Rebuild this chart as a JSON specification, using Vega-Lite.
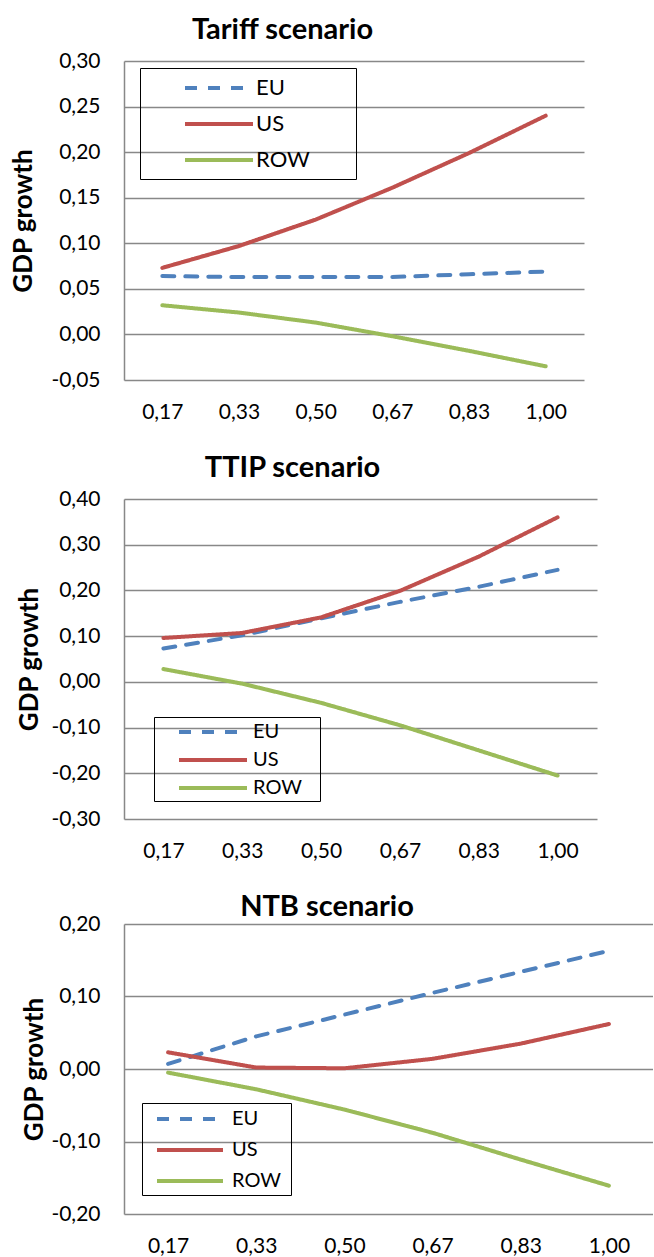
{
  "$schema": "https://vega.github.io/schema/vega-lite/v6.json",
  "padding": {"left": 10, "top": 15, "right": 0, "bottom": 0},
  "background": "white",
  "data": {"values": [
    {"scenario": "Tariff", "region": "EU", "share": "0,17", "gdp": 0.064},
    {"scenario": "Tariff", "region": "EU", "share": "0,33", "gdp": 0.063},
    {"scenario": "Tariff", "region": "EU", "share": "0,50", "gdp": 0.063},
    {"scenario": "Tariff", "region": "EU", "share": "0,67", "gdp": 0.063},
    {"scenario": "Tariff", "region": "EU", "share": "0,83", "gdp": 0.066},
    {"scenario": "Tariff", "region": "EU", "share": "1,00", "gdp": 0.069},
    {"scenario": "Tariff", "region": "US", "share": "0,17", "gdp": 0.073},
    {"scenario": "Tariff", "region": "US", "share": "0,33", "gdp": 0.097},
    {"scenario": "Tariff", "region": "US", "share": "0,50", "gdp": 0.126},
    {"scenario": "Tariff", "region": "US", "share": "0,67", "gdp": 0.161},
    {"scenario": "Tariff", "region": "US", "share": "0,83", "gdp": 0.199},
    {"scenario": "Tariff", "region": "US", "share": "1,00", "gdp": 0.240},
    {"scenario": "Tariff", "region": "ROW", "share": "0,17", "gdp": 0.032},
    {"scenario": "Tariff", "region": "ROW", "share": "0,33", "gdp": 0.024},
    {"scenario": "Tariff", "region": "ROW", "share": "0,50", "gdp": 0.013},
    {"scenario": "Tariff", "region": "ROW", "share": "0,67", "gdp": -0.002},
    {"scenario": "Tariff", "region": "ROW", "share": "0,83", "gdp": -0.018},
    {"scenario": "Tariff", "region": "ROW", "share": "1,00", "gdp": -0.035},
    {"scenario": "TTIP", "region": "EU", "share": "0,17", "gdp": 0.073},
    {"scenario": "TTIP", "region": "EU", "share": "0,33", "gdp": 0.102},
    {"scenario": "TTIP", "region": "EU", "share": "0,50", "gdp": 0.139},
    {"scenario": "TTIP", "region": "EU", "share": "0,67", "gdp": 0.175},
    {"scenario": "TTIP", "region": "EU", "share": "0,83", "gdp": 0.208},
    {"scenario": "TTIP", "region": "EU", "share": "1,00", "gdp": 0.245},
    {"scenario": "TTIP", "region": "US", "share": "0,17", "gdp": 0.096},
    {"scenario": "TTIP", "region": "US", "share": "0,33", "gdp": 0.107},
    {"scenario": "TTIP", "region": "US", "share": "0,50", "gdp": 0.141},
    {"scenario": "TTIP", "region": "US", "share": "0,67", "gdp": 0.199},
    {"scenario": "TTIP", "region": "US", "share": "0,83", "gdp": 0.274},
    {"scenario": "TTIP", "region": "US", "share": "1,00", "gdp": 0.360},
    {"scenario": "TTIP", "region": "ROW", "share": "0,17", "gdp": 0.028},
    {"scenario": "TTIP", "region": "ROW", "share": "0,33", "gdp": -0.004},
    {"scenario": "TTIP", "region": "ROW", "share": "0,50", "gdp": -0.046},
    {"scenario": "TTIP", "region": "ROW", "share": "0,67", "gdp": -0.095},
    {"scenario": "TTIP", "region": "ROW", "share": "0,83", "gdp": -0.150},
    {"scenario": "TTIP", "region": "ROW", "share": "1,00", "gdp": -0.205},
    {"scenario": "NTB", "region": "EU", "share": "0,17", "gdp": 0.007},
    {"scenario": "NTB", "region": "EU", "share": "0,33", "gdp": 0.045},
    {"scenario": "NTB", "region": "EU", "share": "0,50", "gdp": 0.075},
    {"scenario": "NTB", "region": "EU", "share": "0,67", "gdp": 0.105},
    {"scenario": "NTB", "region": "EU", "share": "0,83", "gdp": 0.134},
    {"scenario": "NTB", "region": "EU", "share": "1,00", "gdp": 0.163},
    {"scenario": "NTB", "region": "US", "share": "0,17", "gdp": 0.023},
    {"scenario": "NTB", "region": "US", "share": "0,33", "gdp": 0.002},
    {"scenario": "NTB", "region": "US", "share": "0,50", "gdp": 0.001},
    {"scenario": "NTB", "region": "US", "share": "0,67", "gdp": 0.014},
    {"scenario": "NTB", "region": "US", "share": "0,83", "gdp": 0.035},
    {"scenario": "NTB", "region": "US", "share": "1,00", "gdp": 0.062},
    {"scenario": "NTB", "region": "ROW", "share": "0,17", "gdp": -0.005},
    {"scenario": "NTB", "region": "ROW", "share": "0,33", "gdp": -0.028},
    {"scenario": "NTB", "region": "ROW", "share": "0,50", "gdp": -0.056},
    {"scenario": "NTB", "region": "ROW", "share": "0,67", "gdp": -0.088},
    {"scenario": "NTB", "region": "ROW", "share": "0,83", "gdp": -0.125},
    {"scenario": "NTB", "region": "ROW", "share": "1,00", "gdp": -0.161}
  ]},
  "align": "none",
  "spacing": 32,
  "vconcat": [
    {
      "title": {"text": "Tariff scenario", "dx": -71.5, "offset": 5.3},
      "width": 460, "height": 319,
      "transform": [{"filter": "datum.scenario == 'Tariff'"}],
      "mark": {"type": "line", "strokeWidth": 4, "strokeCap": "round", "strokeJoin": "round"},
      "encoding": {
        "x": {"field": "share", "type": "ordinal", "sort": null, "title": null},
        "y": {"field": "gdp", "type": "quantitative",
              "scale": {"domain": [-0.05, 0.30], "nice": false, "zero": false},
              "axis": {"values": [-0.05, 0, 0.05, 0.1, 0.15, 0.2, 0.25, 0.3], "title": "GDP growth", "titleX": -93, "titleY": 159.5}},
        "color": {"field": "region", "type": "nominal",
                  "scale": {"domain": ["EU", "US", "ROW"], "range": ["#4F81BD", "#C0504D", "#9BBB59"]},
                  "legend": {"orient": "none", "legendX": 16, "legendY": 7, "padding": 8, "rowPadding": 13, "labelFontSize": 22, "symbolSize": 400, "symbolType": "M-3.4,0H3.4M12.1,0", "symbolOffset": 59, "labelOffset": 25}},
        "strokeDash": {"field": "region", "type": "nominal",
                  "scale": {"domain": ["EU", "US", "ROW"], "range": [[12, 11], [1, 0], [1, 0]]},
                  "legend": {"orient": "none", "legendX": 16, "legendY": 7, "padding": 8, "rowPadding": 13, "labelFontSize": 22, "symbolSize": 400, "symbolType": "M-3.4,0H3.4M12.1,0", "symbolOffset": 59, "labelOffset": 25}}
      }
    },
    {
      "title": {"text": "TTIP scenario", "dx": -68, "offset": 4.9},
      "width": 473, "height": 320,
      "transform": [{"filter": "datum.scenario == 'TTIP'"}],
      "mark": {"type": "line", "strokeWidth": 4, "strokeCap": "round", "strokeJoin": "round"},
      "encoding": {
        "x": {"field": "share", "type": "ordinal", "sort": null, "title": null},
        "y": {"field": "gdp", "type": "quantitative",
              "scale": {"domain": [-0.3, 0.4], "nice": false, "zero": false},
              "axis": {"values": [-0.3, -0.2, -0.1, 0, 0.1, 0.2, 0.3, 0.4], "title": "GDP growth", "titleX": -87, "titleY": 160}},
        "color": {"field": "region", "type": "nominal",
                  "scale": {"domain": ["EU", "US", "ROW"], "range": ["#4F81BD", "#C0504D", "#9BBB59"]},
                  "legend": {"orient": "none", "legendX": 30, "legendY": 218, "padding": 3, "rowPadding": 6, "labelFontSize": 20, "symbolSize": 400, "symbolType": "M-3.4,0H3.4M9.6,0", "symbolOffset": 44, "labelOffset": 28}},
        "strokeDash": {"field": "region", "type": "nominal",
                  "scale": {"domain": ["EU", "US", "ROW"], "range": [[12, 11], [1, 0], [1, 0]]},
                  "legend": {"orient": "none", "legendX": 30, "legendY": 218, "padding": 3, "rowPadding": 6, "labelFontSize": 20, "symbolSize": 400, "symbolType": "M-3.4,0H3.4M9.6,0", "symbolOffset": 44, "labelOffset": 28}}
      }
    },
    {
      "title": {"text": "NTB scenario", "dx": -61.5, "offset": -9},
      "width": 529, "height": 290,
      "transform": [{"filter": "datum.scenario == 'NTB'"}],
      "mark": {"type": "line", "strokeWidth": 4, "strokeCap": "round", "strokeJoin": "round"},
      "encoding": {
        "x": {"field": "share", "type": "ordinal", "sort": null, "title": null},
        "y": {"field": "gdp", "type": "quantitative",
              "scale": {"domain": [-0.2, 0.2], "nice": false, "zero": false},
              "axis": {"values": [-0.2, -0.1, 0, 0.1, 0.2], "title": "GDP growth", "titleX": -82, "titleY": 145}},
        "color": {"field": "region", "type": "nominal",
                  "scale": {"domain": ["EU", "US", "ROW"], "range": ["#4F81BD", "#C0504D", "#9BBB59"]},
                  "legend": {"orient": "none", "legendX": 18, "legendY": 179, "padding": 4, "rowPadding": 9, "labelFontSize": 20, "symbolSize": 400, "symbolType": "M-3.3,0H3.3M8.9,0", "symbolOffset": 32, "labelOffset": 30}},
        "strokeDash": {"field": "region", "type": "nominal",
                  "scale": {"domain": ["EU", "US", "ROW"], "range": [[12, 11], [1, 0], [1, 0]]},
                  "legend": {"orient": "none", "legendX": 18, "legendY": 179, "padding": 4, "rowPadding": 9, "labelFontSize": 20, "symbolSize": 400, "symbolType": "M-3.3,0H3.3M8.9,0", "symbolOffset": 32, "labelOffset": 30}}
      }
    }
  ],
  "resolve": {
    "scale": {"color": "independent", "strokeDash": "independent", "y": "independent", "x": "independent"},
    "legend": {"color": "independent", "strokeDash": "independent"}
  },
  "config": {
    "locale": {"number": {"decimal": ",", "thousands": ".", "grouping": [3], "currency": ["", " €"], "minus": "-"}},
    "font": "Lato",
    "view": {"stroke": null},
    "title": {"font": "Lato", "fontSize": 29, "fontWeight": "bold", "color": "black", "anchor": "middle", "baseline": "alphabetic"},
    "axis": {"labelFont": "Lato", "labelFontSize": 21, "labelColor": "black", "titleFont": "Lato", "titleFontSize": 26, "titleFontWeight": "bold", "titleColor": "black", "ticks": false, "tickSize": 0, "gridColor": "#888888", "gridWidth": 1.5, "domainColor": "#888888", "domainWidth": 1.5},
    "axisX": {"domain": false, "grid": false, "labelAngle": 0, "labelPadding": 38, "labelBaseline": "alphabetic"},
    "axisY": {"domain": true, "grid": true, "format": ".2f", "labelPadding": 24, "titleBaseline": "alphabetic", "titleAngle": 270},
    "legend": {"title": null, "strokeColor": "black", "labelFont": "Lato", "labelColor": "black", "symbolStrokeWidth": 4, "symbolFillColor": "transparent", "labelLimit": 300,
               "encode": {"symbols": {"update": {"strokeCap": {"value": "round"}}}, "legend": {"update": {"strokeWidth": {"value": 2}}}}}
  }
}
